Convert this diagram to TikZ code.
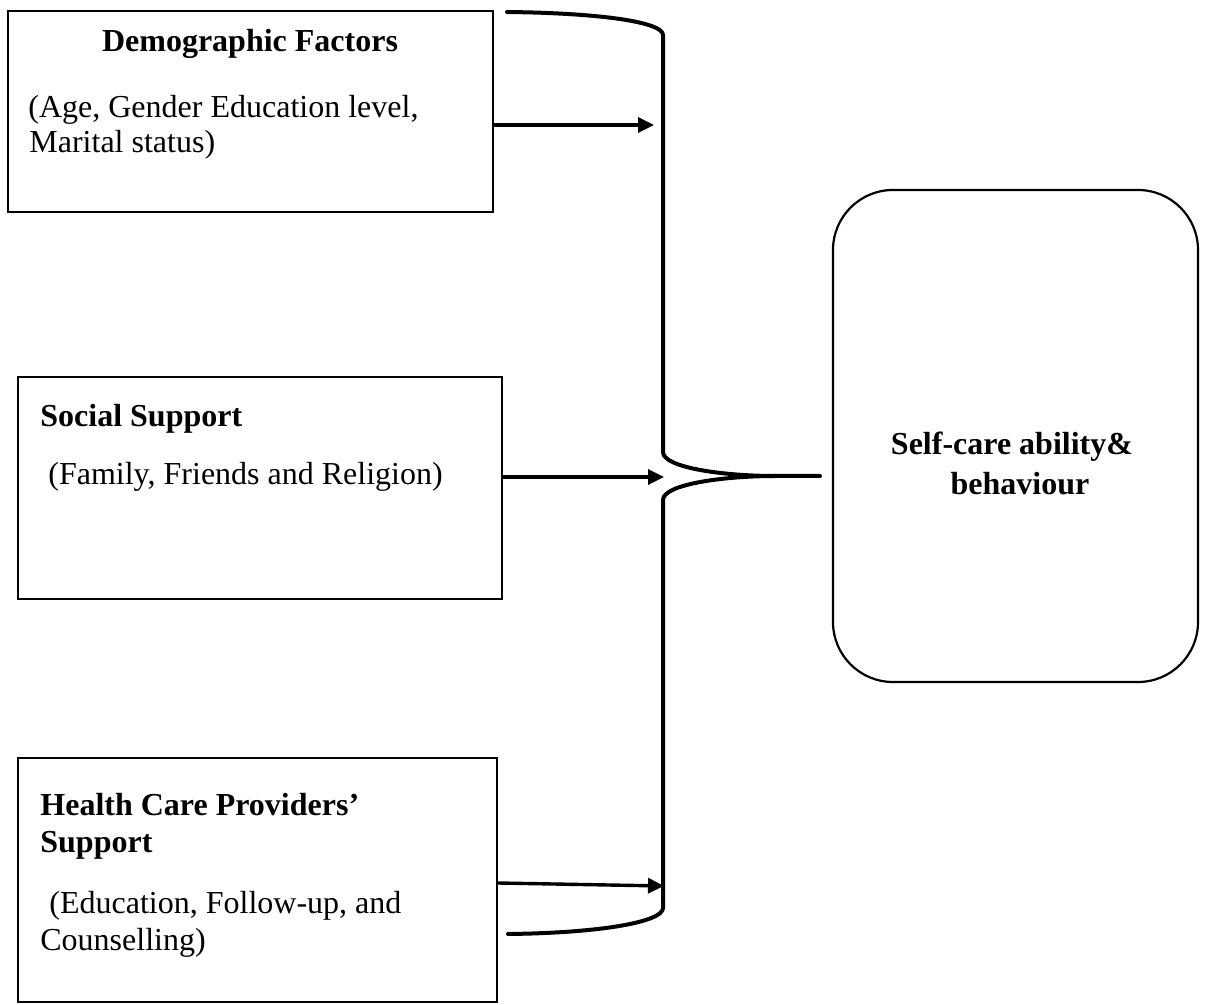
\documentclass[tikz,border=0pt]{standalone}
\usepackage{fontspec}
\setmainfont{Liberation Serif}
\usetikzlibrary{arrows.meta}
\begin{document}
\begin{tikzpicture}[x=0.5pt,y=-0.5pt,
  box/.style={draw=black,line width=1.1pt,minimum width=#1,inner sep=0pt},
  txt/.style={inner sep=0pt,font=\fontsize{16}{19}\selectfont},
  btxt/.style={inner sep=0pt,font=\fontsize{16}{19}\selectfont\bfseries},
  arr/.style={line width=1.7pt,-{Triangle[length=8pt,width=7.5pt]}},
  brace/.style={line width=2pt,line cap=round}]
\useasboundingbox (0,0) rectangle (1206,1005);
% boxes
\node[box=242.5pt,minimum height=100.5pt] (demo) at (250.5,111.5) {};
\node[box=242pt,minimum height=111pt] (social) at (260,488) {};
\node[box=239.5pt,minimum height=122pt] (health) at (257.5,880) {};
\node[box=182.5pt,minimum height=246pt,rounded corners=30pt] (self) at (1015.5,436) {};
% texts
\node[btxt,anchor=base] (d1) at (250,52) {Demographic Factors};
\node[txt,anchor=base west] (d2) at (28,118) {(Age, Gender Education level,};
\node[txt,anchor=base west] (d3) at (29,153) {Marital status)};
\node[btxt,anchor=base west] (s1) at (40,427) {Social Support};
\node[txt,anchor=base west] (s2) at (48,485) {(Family, Friends and Religion)};
\node[btxt,anchor=base west] (h1) at (40,815) {Health Care Providers’};
\node[btxt,anchor=base west] (h2) at (40,852) {Support};
\node[txt,anchor=base west] (h3) at (49,913) {(Education, Follow-up, and};
\node[txt,anchor=base west] (h4) at (40,950) {Counselling)};
\node[btxt,anchor=base] (c1) at (1012,455) {Self-care ability\&};
\node[btxt,anchor=base] (c2) at (1020,495) {behaviour};
% brace coordinates
\coordinate (bt) at (507,12);
\coordinate (bu) at (663,35);
\coordinate (bm1) at (663,452);
\coordinate (bmid) at (775,476);
\coordinate (tip) at (820,476);
\coordinate (bm2) at (663,500);
\coordinate (bl) at (663,908);
\coordinate (bb) at (508,934);
\draw[brace] (bt) .. controls (600,13) and (663,22) .. (bu) -- (bm1)
  .. controls (663,468) and (725,476) .. (bmid) -- (tip);
\draw[brace] (bmid) .. controls (725,476) and (663,484) .. (bm2) -- (bl)
  .. controls (663,922) and (600,933) .. (bb);
% arrows
\coordinate (a1) at (654,125);
\coordinate (a2) at (664,477);
\coordinate (a3) at (664,886);
\draw[arr] (demo.east |- a1) -- (a1);
\draw[arr] (social.east |- a2) -- (a2);
\draw[arr] (health.east |- 0,883) -- (a3);
\end{tikzpicture}
\end{document}
